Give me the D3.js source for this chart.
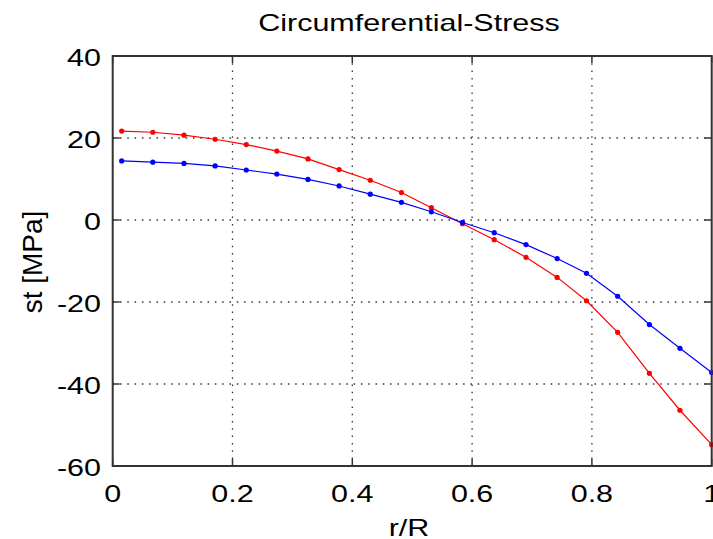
<!doctype html>
<html>
<head>
        <script src="https://cdn.jsdelivr.net/npm/d3@7/dist/d3.min.js" type="text/javascript"></script>
        <style type="text/css">
                body { margin: 0; background: #fff; }
                svg { display: block; background: #fff; }
                text { font-family: "Liberation Sans", Arial, Helvetica, sans-serif; fill: #000; }
        </style>
</head>
<body>

        <svg width="713" height="539"></svg>

        <script type="text/javascript">

        // r/R positions of the computed points
        var rR = [0.015, 0.067, 0.119, 0.171, 0.223, 0.274, 0.326, 0.378, 0.430, 0.482,
                  0.532, 0.584, 0.637, 0.690, 0.742, 0.791, 0.843, 0.896, 0.947, 1.0];

        // circumferential stress [MPa]
        var redStress  = [21.7, 21.4, 20.7, 19.7, 18.4, 16.8, 14.9, 12.3, 9.7, 6.7,
                          3.0, -0.9, -4.8, -9.1, -14.0, -19.7, -27.4, -37.4, -46.4, -54.8];
        var blueStress = [14.4, 14.1, 13.8, 13.2, 12.2, 11.2, 9.9, 8.3, 6.3, 4.3,
                          2.0, -0.6, -3.1, -6.0, -9.4, -13.0, -18.6, -25.5, -31.3, -37.2];

        var xTicks = [0, 0.2, 0.4, 0.6, 0.8, 1];
        var yTicks = [-60, -40, -20, 0, 20, 40];

        drawChart();

        function drawChart() {

                var svg = d3.select("svg");
                var x0 = 112.7, x1 = 711.7, y0 = 56, y1 = 466;
                var stretch = 1.27;   // picture text is wider than the font

                var xScale = d3.scaleLinear().domain([0, 1]).range([x0, x1]);
                var yScale = d3.scaleLinear().domain([-60, 40]).range([y1, y0]);

                // dotted grid
                svg.append("g").selectAll("line")
                   .data(xTicks.slice(1, -1))
                   .enter().append("line")
                   .attr("x1", d => xScale(d)).attr("x2", d => xScale(d))
                   .attr("y1", y0).attr("y2", y1)
                   .style("stroke", "#333").style("stroke-width", 1.3)
                   .style("stroke-dasharray", "1.5,5.8");

                svg.append("g").selectAll("line")
                   .data(yTicks.slice(1, -1))
                   .enter().append("line")
                   .attr("x1", x0).attr("x2", x1)
                   .attr("y1", d => yScale(d)).attr("y2", d => yScale(d))
                   .style("stroke", "#333").style("stroke-width", 1.3)
                   .style("stroke-dasharray", "1.5,5.8");

                // inward ticks on all four sides
                var tickLen = 7;
                var ticks = svg.append("g").style("stroke", "#333").style("stroke-width", 1.5);
                xTicks.forEach(function(d) {
                        ticks.append("line").attr("x1", xScale(d)).attr("x2", xScale(d)).attr("y1", y1).attr("y2", y1 - tickLen);
                        ticks.append("line").attr("x1", xScale(d)).attr("x2", xScale(d)).attr("y1", y0).attr("y2", y0 + tickLen);
                });
                yTicks.forEach(function(d) {
                        ticks.append("line").attr("x1", x0).attr("x2", x0 + tickLen).attr("y1", yScale(d)).attr("y2", yScale(d));
                        ticks.append("line").attr("x1", x1).attr("x2", x1 - tickLen).attr("y1", yScale(d)).attr("y2", yScale(d));
                });

                // data lines
                var line = d3.line()
                             .x((d, i) => xScale(rR[i]))
                             .y(d => yScale(d));

                var series = [{values: redStress, color: "#ff0000"}, {values: blueStress, color: "#0000ff"}];

                series.forEach(function(s) {
                        svg.append("path")
                           .attr("d", line(s.values))
                           .style("fill", "none")
                           .style("stroke", s.color)
                           .style("stroke-width", 1.2);

                        svg.append("g").selectAll("circle")
                           .data(s.values)
                           .enter().append("circle")
                           .attr("cx", (d, i) => xScale(rR[i]))
                           .attr("cy", d => yScale(d))
                           .attr("r", 2.6)
                           .style("fill", s.color);
                });

                // axes box
                svg.append("rect")
                   .attr("x", x0).attr("y", y0)
                   .attr("width", x1 - x0).attr("height", y1 - y0)
                   .style("fill", "none").style("stroke", "#333").style("stroke-width", 2);

                function widen(sel) {
                        sel.each(function() {
                                var w = this.getComputedTextLength();
                                d3.select(this).attr("textLength", w * stretch).attr("lengthAdjust", "spacingAndGlyphs");
                        });
                }

                // tick labels
                svg.append("g").selectAll("text")
                   .data(yTicks)
                   .enter().append("text")
                   .attr("x", 101)
                   .attr("y", d => yScale(d) + 10)
                   .attr("text-anchor", "end")
                   .style("font-size", "24px")
                   .text(d => d)
                   .call(widen);

                svg.append("g").selectAll("text")
                   .data(xTicks)
                   .enter().append("text")
                   .attr("x", d => xScale(d))
                   .attr("y", 502)
                   .attr("text-anchor", "middle")
                   .style("font-size", "24px")
                   .text(d => d)
                   .call(widen);

                // title and axis labels
                svg.append("text")
                   .attr("x", 409).attr("y", 31)
                   .attr("text-anchor", "middle")
                   .style("font-size", "24px")
                   .text("Circumferential-Stress")
                   .call(widen);

                svg.append("text")
                   .attr("x", 409).attr("y", 536)
                   .attr("text-anchor", "middle")
                   .style("font-size", "24px")
                   .text("r/R")
                   .call(widen);

                svg.append("text")
                   .attr("transform", "translate(42,262) rotate(-90)")
                   .attr("text-anchor", "middle")
                   .style("font-size", "28px")
                   .text("st [MPa]");
        }

        </script>
</body>
</html>
